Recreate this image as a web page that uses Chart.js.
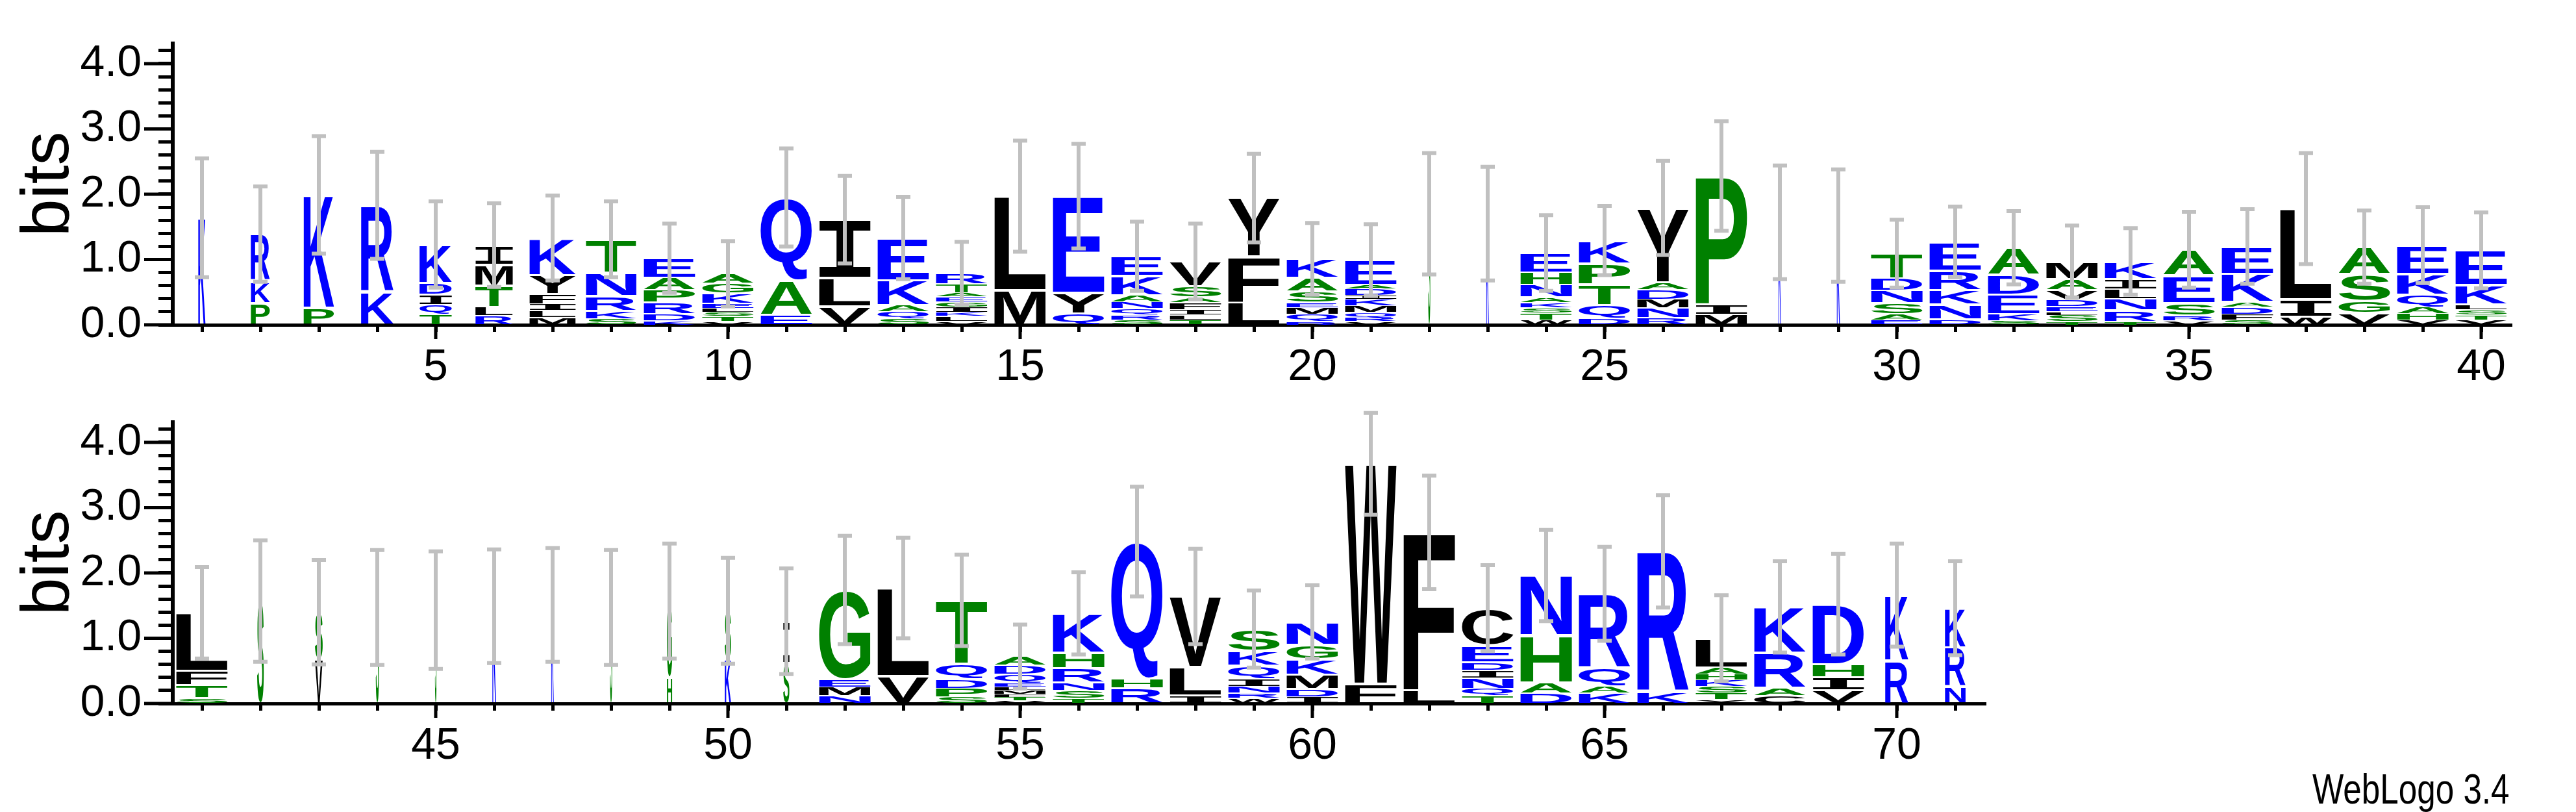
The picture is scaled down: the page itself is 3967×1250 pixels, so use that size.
<!DOCTYPE html>
<html><head><meta charset="utf-8">
<script src="https://cdn.jsdelivr.net/npm/chart.js@4.4.0/dist/chart.umd.min.js"></script>
<style>
html,body{margin:0;padding:0;background:#fff;width:3967px;height:1250px;overflow:hidden}
canvas{position:absolute;left:0}
#wl{position:absolute;right:102px;top:1178px;font:64px "Liberation Sans",sans-serif;color:#000;transform:scaleX(0.8);transform-origin:right top}
</style></head><body>
<canvas id="c1" width="3967" height="625" style="top:0"></canvas>
<canvas id="c2" width="3967" height="625" style="top:583px"></canvas>
<div id="wl">WebLogo 3.4</div>
<script>
// Stacks bottom→top, one string of letters per position and matching heights in bits
const letters = [
"K","PKR","PK","KR","TQIDK","RLTMI","MLIFYK","SKRNT","KDRPAE","VTSLEKGA",
"EAQ","VLI","SQAKE","VLKIGEATR","ML","QYE","SRQNAKE","TLIFASV","LFY","RQMESAK",
"VRQMKIDAE","S","K","WTSKANHE","DQTPK","RNMDAY","MIP","K","K","EASNDT",
"DNKRE","SKEDA","TSLEDVAM","TRNLIK","VRSEA","SFDAKE","WIL","VGSA","VHAQKE","VTSLKE",
"STFL","S","VS","S","S","K","K","S","HG","KS",
"SI","NMEG","VL","SPDQT","VTFMLEQDA","TSNRHK","RHQ","ILV","WRNIQKS","IDMKGN",
"FW","LF","TQNIDEC","DAHN","KAQR","KR","YTSKHAL","CARK","VIHD","RK","NRK"];
const heights = [
[1.64],[0.33,0.34,0.72],[0.26,1.73],[0.5,1.33],[0.16,0.15,0.15,0.18,0.59],
[0.14,0.13,0.33,0.32,0.3],[0.11,0.11,0.1,0.15,0.29,0.57],[0.09,0.12,0.23,0.36,0.51],
[0.06,0.1,0.18,0.19,0.19,0.3],[0.05,0.08,0.06,0.06,0.08,0.15,0.15,0.15],
[0.15,0.53,1.27],[0.28,0.44,0.89],[0.09,0.11,0.1,0.38,0.65],
[0.05,0.08,0.06,0.08,0.08,0.08,0.06,0.13,0.17],[0.53,1.44],[0.17,0.32,1.48],
[0.07,0.08,0.1,0.1,0.1,0.3,0.3],[0.07,0.08,0.08,0.11,0.08,0.17,0.38],[0.34,0.7,0.9],
[0.05,0.11,0.1,0.08,0.17,0.21,0.29],[0.05,0.06,0.08,0.1,0.1,0.06,0.1,0.06,0.38],
[1.7],[1.55],[0.07,0.11,0.08,0.08,0.08,0.19,0.19,0.3],[0.09,0.21,0.32,0.32,0.35],
[0.11,0.15,0.13,0.15,0.11,1.14],[0.16,0.15,1.97],[1.57],[1.52],
[0.07,0.09,0.17,0.19,0.19,0.38],[0.08,0.23,0.22,0.3,0.44],[0.06,0.1,0.3,0.3,0.42],
[0.05,0.1,0.05,0.08,0.1,0.15,0.17,0.27],[0.05,0.17,0.18,0.15,0.15,0.27],
[0.06,0.08,0.19,0.42,0.4],[0.07,0.09,0.11,0.08,0.43,0.42],[0.12,0.27,1.39],
[0.18,0.18,0.41,0.42],[0.07,0.1,0.1,0.19,0.32,0.44],[0.07,0.08,0.08,0.08,0.3,0.53],
[0.08,0.2,0.22,0.89],[1.57],[0.68,0.72],[1.47],[1.43],[1.49],[1.51],[1.47],[0.4,1.17],[0.68,0.74],
[0.62,0.64],[0.12,0.13,0.12,1.37],[0.42,1.35],[0.1,0.13,0.14,0.24,0.97],
[0.04,0.06,0.04,0.06,0.05,0.06,0.14,0.14,0.13],[0.08,0.12,0.12,0.22,0.24,0.6],
[0.24,0.14,2.1],[0.12,0.44,1.08],[0.08,0.08,0.1,0.12,0.2,0.22,0.34],
[0.1,0.12,0.22,0.24,0.22,0.35],[0.3,3.37],[0.2,2.42],[0.12,0.11,0.16,0.12,0.12,0.26,0.57],
[0.16,0.16,0.72,0.92],[0.16,0.11,0.28,1.13],[0.18,2.15],[0.06,0.1,0.1,0.1,0.09,0.1,0.45],
[0.12,0.12,0.54,0.7],[0.2,0.2,0.2,0.92],[0.66,1.0],[0.26,0.6,0.6]];
// Error bar half-widths (bits)
const errors = [0.91,0.73,0.9,0.82,0.66,0.64,0.65,0.58,0.53,0.5,0.75,0.67,0.63,0.48,0.85,0.8,0.53,0.58,0.68,0.55,
0.55,0.93,0.87,0.58,0.53,0.72,0.84,0.87,0.86,0.52,0.54,0.56,0.55,0.51,0.58,0.57,0.85,0.56,0.58,0.58,
0.7,0.93,0.8,0.88,0.9,0.87,0.87,0.88,0.88,0.81,0.81,0.83,0.77,0.7,0.49,0.63,0.84,0.73,0.59,0.56,
0.78,0.87,0.66,0.7,0.72,0.86,0.66,0.7,0.77,0.79,0.72];
// Column weight (fraction of non-gap residues)
const weights = [0.14,0.37,0.59,0.63,0.63,0.73,0.9,0.98,1,1,1,1,1,1,1,1,1,1,1,1,
1,0.04,0.05,1,1,1,1,0.05,0.06,1,1,1,1,1,1,1,1,1,1,1,
1,0.13,0.15,0.06,0.03,0.07,0.05,0.04,0.1,0.12,0.12,1,1,1,1,1,1,1,1,1,
1,1,1,1,1,1,1,1,1,0.45,0.4];
const yTicks = [0,0.2,0.4,0.6,0.8,1,1.2,1.4,1.6,1.8,2,2.2,2.4,2.6,2.8,3,3.2,3.4,3.6,3.8,4,4.2];

const BLUE = "KRDEQN", GREEN = "GSTAPH";
function colorOf(c){ return BLUE.includes(c)?"#0000ff":GREEN.includes(c)?"#008000":"#000000"; }
function fontOf(c){ return c==="I" ? 'bold 200px "DejaVu Sans Mono", "Liberation Mono", monospace' : 'bold 200px "Liberation Sans", Arial, sans-serif'; }
const LABELFONT = '"Liberation Sans", Arial, sans-serif';

const logoPlugin = {
  id:'logo',
  afterDatasetsDraw(chart){
    const ctx = chart.ctx, xs = chart.scales.x, ys = chart.scales.y;
    const a = chart.options.plugins.logo;
    const full = (xs.getPixelForValue(2)-xs.getPixelForValue(1))*0.88;
    ctx.save();
    for(let p=a.from; p<=a.to; p++){
      const i = p-1, L = letters[i], H = heights[i];
      const w = full*weights[i], cx = xs.getPixelForValue(p);
      let base = 0;
      for(let k=0;k<L.length;k++){
        const ch = L[k], h = H[k];
        const yb = ys.getPixelForValue(base), yt = ys.getPixelForValue(base+h);
        base += h;
        ctx.save();
        ctx.font = fontOf(ch); ctx.fillStyle = colorOf(ch);
        const m = ctx.measureText(ch);
        const gw = m.actualBoundingBoxLeft+m.actualBoundingBoxRight;
        const gh = m.actualBoundingBoxAscent+m.actualBoundingBoxDescent;
        const pad = Math.min(2,(yb-yt)*0.08);
        ctx.translate(cx-w/2, yt+pad);
        ctx.scale(w/gw, Math.max(0.5,(yb-yt-2*pad))/gh);
        ctx.fillText(ch, m.actualBoundingBoxLeft, m.actualBoundingBoxAscent);
        ctx.restore();
      }
      const e = errors[i];
      const y1 = ys.getPixelForValue(base+e), y2 = ys.getPixelForValue(base-e);
      ctx.strokeStyle = "#c0c0c0"; ctx.lineWidth = 6;
      ctx.beginPath(); ctx.moveTo(cx,y1); ctx.lineTo(cx,y2);
      ctx.moveTo(cx-11,y1); ctx.lineTo(cx+11,y1);
      ctx.moveTo(cx-11,y2); ctx.lineTo(cx+11,y2); ctx.stroke();
    }
    ctx.strokeStyle="#000"; ctx.lineWidth=5;
    const ca = chart.chartArea;
    ctx.beginPath();
    for(let v=0; v<=4; v++){ const y=ys.getPixelForValue(v); ctx.moveTo(ca.left-44,y); ctx.lineTo(ca.left,y); }
    for(let p=a.from; p<=a.to; p++){ if(p%5===0){ const x=xs.getPixelForValue(p); ctx.moveTo(x,ca.bottom); ctx.lineTo(x,ca.bottom+22);} }
    ctx.stroke();
    ctx.restore();
  }
};

function makeChart(id, from, to, rightPad){
  const pos = []; for(let p=from;p<=to;p++) pos.push(p);
  return new Chart(document.getElementById(id), {
    type:'scatter',
    data:{datasets:[{data: pos.map(p=>({x:p, y:heights[p-1].reduce((s,v)=>s+v,0)})), pointRadius:0}]},
    plugins:[logoPlugin],
    options:{
      responsive:false, animation:false, devicePixelRatio:1,
      layout:{padding:{left:0,right:rightPad,top:51,bottom:0}},
      plugins:{legend:{display:false}, tooltip:{enabled:false}, logo:{from,to}},
      scales:{
        x:{type:'linear', min:from-0.5, max:to+0.5,
          afterBuildTicks(s){ s.ticks = pos.map(v=>({value:v})); },
          afterFit(s){ s.height = 125; },
          grid:{drawOnChartArea:false, drawTicks:true, tickLength:11, color:'#000', lineWidth:5},
          border:{color:'#000', width:5},
          ticks:{autoSkip:false, maxRotation:0, padding:14, color:'#000',
            font:{family:LABELFONT, size:68}, callback:v=> v%5===0 ? String(v) : ''}},
        y:{type:'linear', min:0, max:4.31,
          afterBuildTicks(s){ s.ticks = yTicks.map(v=>({value:v})); },
          afterFit(s){ s.width = 266; },
          grid:{drawOnChartArea:false, drawTicks:true, tickLength:22, color:'#000', lineWidth:5},
          border:{color:'#000', width:6},
          title:{display:true, text:'bits', color:'#000', font:{family:LABELFONT, size:104}, padding:{top:14,bottom:0}},
          ticks:{autoSkip:false, padding:26, color:'#000', font:{family:LABELFONT, size:68},
            callback:v=> Math.abs(v-Math.round(v))<1e-6 ? v.toFixed(1) : ''}}
      }
    }
  });
}
makeChart('c1', 1, 40, 3967-3866);
makeChart('c2', 41, 71, 3967-3056);
</script></body></html>
